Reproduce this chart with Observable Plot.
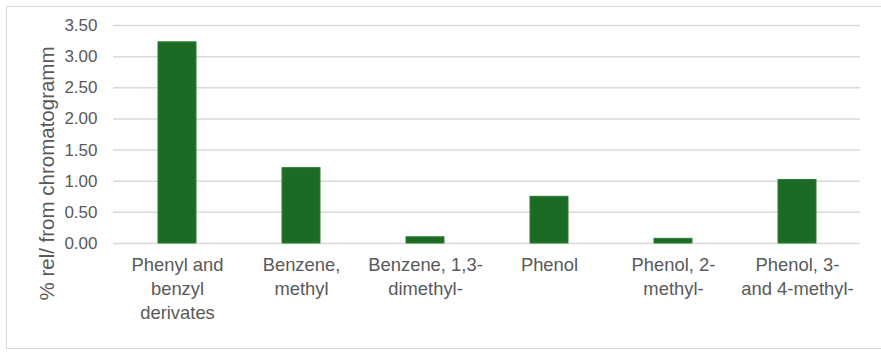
<!DOCTYPE html>
<html>
<head>
<meta charset="utf-8">
<script src="https://cdn.jsdelivr.net/npm/d3@7"></script>
<script src="https://cdn.jsdelivr.net/npm/@observablehq/plot@0.6"></script>
<style>
  html, body { margin: 0; padding: 0; background: #fff; }
  #wrap { position: relative; width: 881px; height: 356px; overflow: hidden; }
  #border { position: absolute; left: 6px; top: 6px; width: 890px; height: 343px; border: 1.5px solid #d9d9d9; box-sizing: border-box; }
  #chart { position: absolute; left: 0; top: 0; }
</style>
</head>
<body>
<div id="wrap"><div id="border"></div><div id="chart"></div></div>
<script>
const categories = [
  "Phenyl and\nbenzyl\nderivates",
  "Benzene,\nmethyl",
  "Benzene, 1,3-\ndimethyl-",
  "Phenol",
  "Phenol, 2-\nmethyl-",
  "Phenol, 3-\nand 4-methyl-"
];
const values = [3.23, 1.21, 0.10, 0.75, 0.075, 1.02];
const yTicks = [0, 0.5, 1, 1.5, 2, 2.5, 3, 3.5];
const yLabel = "% rel/ from chromatogramm";

const data = categories.map((c, i) => ({category: c, value: values[i]}));
const font = "'Liberation Sans', Arial, sans-serif";

const chart = Plot.plot({
  width: 881,
  height: 356,
  marginLeft: 113,
  marginRight: 21,
  marginTop: 25,
  marginBottom: 113,
  style: {fontFamily: font, fontSize: "17px", color: "#595959", background: "transparent"},
  x: {domain: categories, paddingInner: 0.695, paddingOuter: 0.3475},
  y: {domain: [0, 3.5]},
  marks: [
    Plot.gridY(yTicks, {stroke: "#d9d9d9", strokeOpacity: 1, strokeWidth: 1.5}),
    Plot.axisY(yTicks, {tickSize: 0, tickPadding: 16, tickFormat: d => d.toFixed(2), label: null, fill: "#595959", fontSize: 17}),
    Plot.axisX({tickSize: 0, tickPadding: 11, label: null, fill: "#595959", fontSize: 18.4, lineHeight: 1.3}),
    Plot.barY(data, {x: "category", y: "value", fill: "#1c6b24", stroke: "#2f7d37", strokeWidth: 1}),
    Plot.text([yLabel], {frameAnchor: "left", dx: -66, dy: 39, rotate: -90, text: d => d, fill: "#595959", fontSize: 20.5, textAnchor: "middle"})
  ]
});
document.getElementById("chart").appendChild(chart);
</script>
</body>
</html>
